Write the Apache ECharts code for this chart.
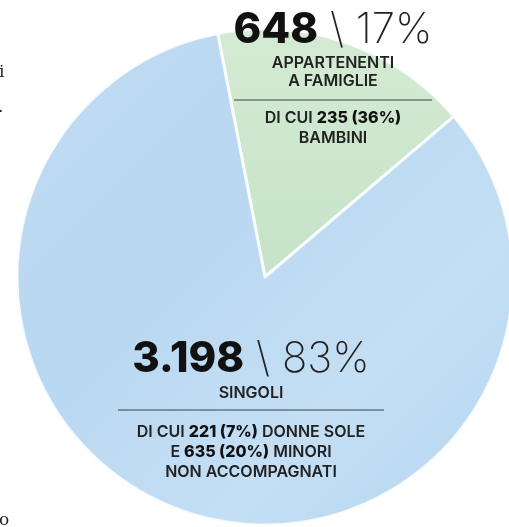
<!DOCTYPE html>
<html>
<head>
<meta charset="UTF-8">
<style>
  html, body { margin: 0; padding: 0; background: #fff; }
  #main { width: 509px; height: 527px; }
</style>
</head>
<body>
<div id="main"></div>
<script src="https://cdn.jsdelivr.net/npm/echarts@6/dist/echarts.min.js"></script>
<script>
// dati
var categorie = ['Appartenenti a famiglie', 'Singoli'];
var valori = [648, 3198];
var numeri = ['648', '3.198'];
var percentuali = ['17%', '83%'];
var titoli = [['APPARTENENTI', 'A FAMIGLIE'], ['SINGOLI']];
var dettagli = [
  [['DI CUI ', '235 (36%)', ''], ['BAMBINI', '', '']],
  [['DI CUI ', '221 (7%)', ' DONNE SOLE'], ['E ', '635 (20%)', ' MINORI'], ['NON ACCOMPAGNATI', '', '']]
];

var FONT = 'Inter, "Open Sans", sans-serif';

function riga(parti) {
  var s = '{n|' + parti[0] + '}';
  if (parti[1]) s += '{b|' + parti[1] + '}';
  if (parti[2]) s += '{n|' + parti[2] + '}';
  return s;
}

// blocco di testo per ogni fetta: p = {cx, top, title, line, det, lineW}
function blocco(i, p) {
  var els = [];
  els.push({
    type: 'text', x: p.cx, y: p.top, z: 100,
    style: {
      text: '{big|' + numeri[i] + '}{thin| \\ ' + percentuali[i] + '}',
      textAlign: 'center', textVerticalAlign: 'middle',
      rich: {
        big: { fontFamily: FONT, fontSize: 42, fontWeight: 800, fill: '#111' },
        thin: { fontFamily: FONT, fontSize: 42, fontWeight: 200, fill: '#222' }
      }
    }
  });
  titoli[i].forEach(function (t, k) {
    els.push({
      type: 'text', x: p.cx, y: p.title + k * 18, z: 100,
      style: { text: t, textAlign: 'center', textVerticalAlign: 'middle',
        fontFamily: FONT, fontSize: 16, fontWeight: 600, fill: '#222' }
    });
  });
  els.push({
    type: 'line', z: 100,
    shape: { x1: p.cx - p.lineW / 2, y1: p.line, x2: p.cx + p.lineW / 2, y2: p.line },
    style: { stroke: '#3c4248', lineWidth: 1.2 }
  });
  dettagli[i].forEach(function (d, k) {
    els.push({
      type: 'text', x: p.cx, y: p.det + k * 20, z: 100,
      style: {
        text: riga(d), textAlign: 'center', textVerticalAlign: 'middle',
        rich: {
          n: { fontFamily: FONT, fontSize: 16, fontWeight: 600, fill: '#222' },
          b: { fontFamily: FONT, fontSize: 16, fontWeight: 800, fill: '#111' }
        }
      }
    });
  });
  return els;
}

var grafica = [].concat(
  blocco(0, { cx: 333, top: 30, title: 63, line: 100, det: 118, lineW: 198 }),
  blocco(1, { cx: 251, top: 359, title: 393, line: 410, det: 432, lineW: 266 })
);
// frammenti di testo della pagina tagliati a sinistra
grafica.push({ type: 'text', x: -1, y: 64, z: 100, style: { text: 'i', fontFamily: '"DejaVu Serif", serif', fontSize: 17, fill: '#222' } });
grafica.push({ type: 'text', x: -2, y: 99, z: 100, style: { text: '.', fontFamily: '"DejaVu Serif", serif', fontSize: 17, fill: '#222' } });
grafica.push({ type: 'text', x: -1, y: 512, z: 100, style: { text: 'o', fontFamily: '"DejaVu Serif", serif', fontSize: 17, fill: '#222' } });

var colori = [
  { type: 'linear', x: 0, y: 0, x2: 0, y2: 1, colorStops: [
    { offset: 0, color: '#d4ebd3' }, { offset: 1, color: '#c5e3c8' } ] },
  { type: 'linear', x: 0, y: 0, x2: 1, y2: 1, colorStops: [
    { offset: 0, color: '#c2ddf3' }, { offset: 0.35, color: '#b8d7f1' },
    { offset: 0.7, color: '#c4dff4' }, { offset: 1, color: '#b3d4f0' } ] }
];

var myChart = echarts.init(document.getElementById('main'));
myChart.setOption({
  animation: false,
  series: [{
    type: 'pie',
    center: [265, 277],
    radius: 248,
    startAngle: 101,
    clockwise: true,
    z: 1,
    label: { show: false },
    labelLine: { show: false },
    emphasis: { disabled: true },
    itemStyle: { borderColor: 'rgba(255,255,255,0.85)', borderWidth: 3 },
    data: categorie.map(function (c, i) {
      return { name: c, value: valori[i], itemStyle: { color: colori[i] } };
    })
  }],
  graphic: grafica
});
</script>
</body>
</html>
